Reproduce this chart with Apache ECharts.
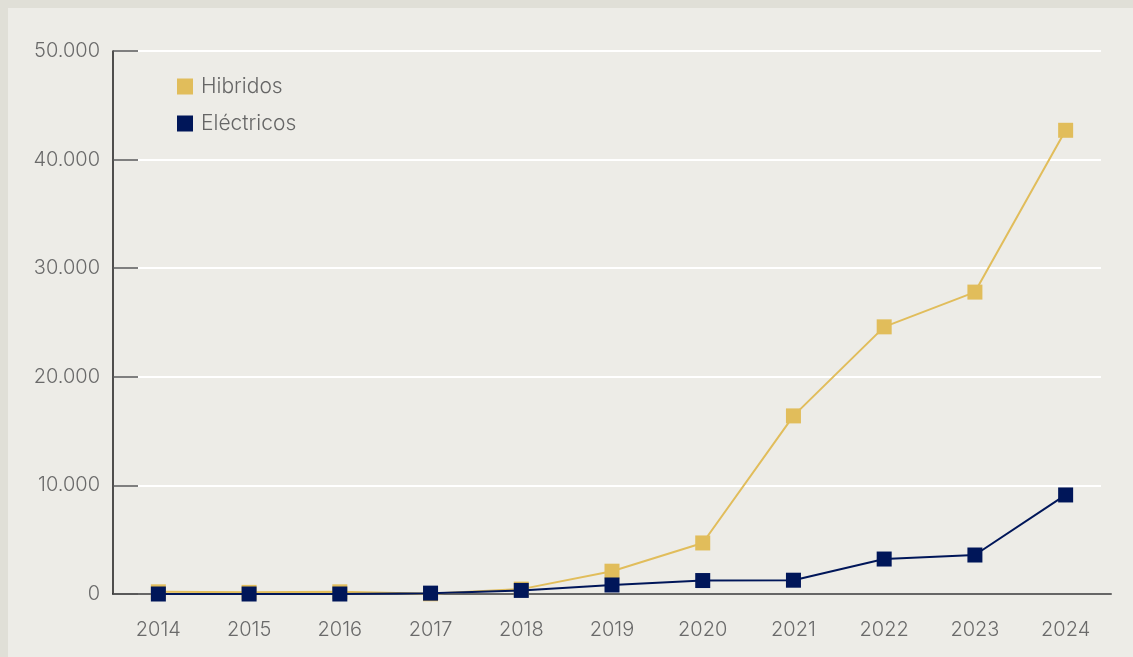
<!DOCTYPE html>
<html>
<head>
<meta charset="utf-8">
<script src="https://cdn.jsdelivr.net/npm/echarts@6/dist/echarts.min.js"></script>
<style>
html,body{margin:0;padding:0;background:#E0DFD7;width:1133px;height:657px;overflow:hidden;}
#c{position:absolute;left:8px;top:8px;width:1125px;height:649px;}
</style>
</head>
<body>
<div id="c"></div>
<script>
const years = ['2014','2015','2016','2017','2018','2019','2020','2021','2022','2023','2024'];
const hibridos = [200, 150, 200, 20, 450, 2100, 4700, 16400, 24600, 27800, 42700];
const electricos = [0, 0, 0, 80, 330, 830, 1240, 1270, 3220, 3590, 9120];
const seriesNames = ['Hibridos', 'Eléctricos'];

const FONT = 'Inter, "Noto Sans", sans-serif';
const fmt = v => v === 0 ? '0' : String(v).replace(/\B(?=(\d{3})+(?!\d))/g, '.');

const chart = echarts.init(document.getElementById('c'), null, {renderer: 'canvas'});
chart.setOption({
  backgroundColor: '#EDECE7',
  animation: false,
  textStyle: {fontFamily: FONT},
  legend: {
    orient: 'vertical',
    left: 169, top: 68,
    padding: 0,
    icon: 'rect',
    itemWidth: 16, itemHeight: 16,
    itemGap: 16,
    textStyle: {color: '#666666', fontSize: 21, fontFamily: FONT, fontWeight: 300, padding: [0, 0, 0, 3]},
    data: seriesNames
  },
  grid: [
    {left: 105, right: 22, top: 43, bottom: 63},
    {left: 105, right: 32, top: 43, bottom: 63}
  ],
  xAxis: [
    {
      type: 'category', gridIndex: 0, data: years, boundaryGap: true,
      axisLine: {lineStyle: {color: '#666', width: 2}},
      axisTick: {inside: true, length: 10, lineStyle: {color: '#222', width: 1.5}},
      axisLabel: {color: '#6a6a6a', fontSize: 20, margin: 26, fontFamily: FONT, fontWeight: 300}
    },
    {type: 'category', gridIndex: 1, data: years, show: false}
  ],
  yAxis: [
    {
      type: 'value', gridIndex: 0, min: 0, max: 50000, interval: 10000, z: 3,
      axisLine: {show: true, lineStyle: {color: '#1a1a1a', width: 1.5}},
      axisTick: {show: true, inside: true, length: 25, lineStyle: {color: '#555', width: 1.5}},
      splitLine: {show: false},
      axisLabel: {color: '#6a6a6a', fontSize: 20, margin: 13, formatter: fmt, fontFamily: FONT, fontWeight: 300}
    },
    {
      type: 'value', gridIndex: 1, min: 0, max: 50000, interval: 10000, z: 0,
      axisLine: {show: false}, axisTick: {show: false}, axisLabel: {show: false},
      splitLine: {show: true, lineStyle: {color: '#FFFFFF', width: 2}}
    }
  ],
  series: [
    {
      name: seriesNames[0], type: 'line', data: hibridos,
      xAxisIndex: 0, yAxisIndex: 0,
      symbol: 'rect', symbolSize: 15,
      itemStyle: {color: '#E1BD5B'},
      lineStyle: {color: '#E1BD5B', width: 2},
      z: 3
    },
    {
      name: seriesNames[1], type: 'line', data: electricos,
      xAxisIndex: 0, yAxisIndex: 0,
      symbol: 'rect', symbolSize: 15,
      itemStyle: {color: '#001659'},
      lineStyle: {color: '#001659', width: 2},
      z: 4
    }
  ]
});
</script>
</body>
</html>
